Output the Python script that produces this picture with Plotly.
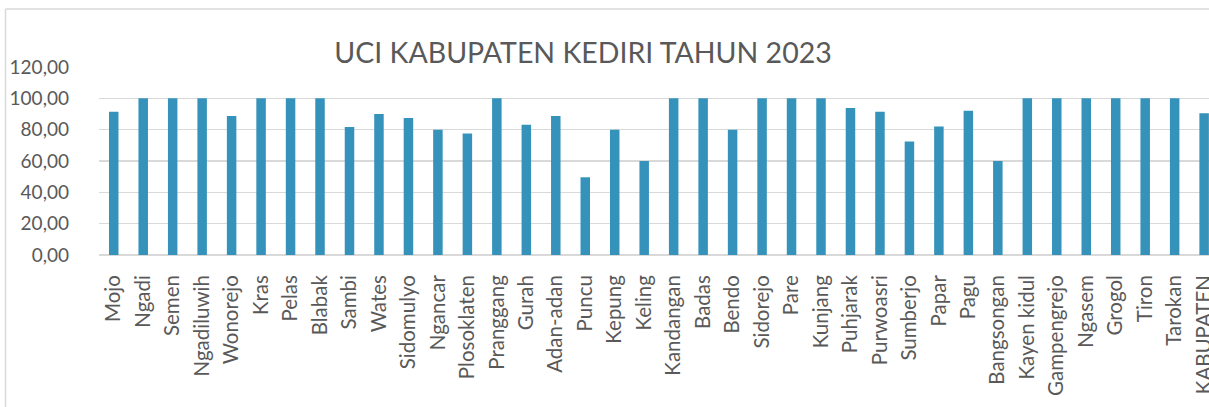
import plotly.graph_objects as go

categories = ["Mojo", "Ngadi", "Semen", "Ngadiluwih", "Wonorejo", "Kras", "Pelas", "Blabak",
              "Sambi", "Wates", "Sidomulyo", "Ngancar", "Plosoklaten", "Pranggang", "Gurah",
              "Adan-adan", "Puncu", "Kepung", "Keling", "Kandangan", "Badas", "Bendo",
              "Sidorejo", "Pare", "Kunjang", "Puhjarak", "Purwoasri", "Sumberjo", "Papar",
              "Pagu", "Bangsongan", "Kayen kidul", "Gampengrejo", "Ngasem", "Grogol", "Tiron",
              "Tarokan", "KABUPATEN"]
uci_values = [91.5, 100, 100, 100, 88.7, 100, 100, 100,
              81.7, 90.0, 87.4, 80.0, 77.6, 100, 83.1,
              88.7, 49.6, 80.0, 60.0, 100, 100, 80.0,
              100, 100, 100, 93.8, 91.5, 72.4, 82.1,
              92.1, 60.0, 100, 100, 100, 100, 100,
              100, 90.4]
y_tick_values = [0, 20, 40, 60, 80, 100, 120]
y_tick_labels = ["0,00", "20,00", "40,00", "60,00", "80,00", "100,00", "120,00"]
title_text = "UCI KABUPATEN KEDIRI TAHUN 2023"

W, H = 1209, 407
L, R, T, B = 99, 0, 67, 152
plot_w = W - L - R
plot_h = H - T - B
cat_w = 29.47

fig = go.Figure(go.Bar(
    x=list(range(len(categories))), y=uci_values,
    marker=dict(color="#3593bb", line=dict(width=0)),
    hoverinfo="skip",
))

fig.update_layout(
    width=W, height=H,
    margin=dict(l=L, r=R, t=T, b=B, autoexpand=False),
    plot_bgcolor="white", paper_bgcolor="white",
    bargap=1 - 9.5 / cat_w,
    showlegend=False,
    font=dict(family="Lato", color="#595959"),
    title=dict(text=title_text, x=583 / W, xanchor="center", xref="container",
               y=1 - 53 / H, yanchor="middle", yref="container",
               font=dict(family="Lato", size=28.5, color="#595959")),
)
fig.update_xaxes(
    range=[-0.5, -0.5 + plot_w / cat_w],
    tickmode="array", tickvals=list(range(len(categories))), ticktext=categories,
    tickangle=-90, tickfont=dict(size=20.5, family="Lato", color="#595959"),
    showgrid=False, showline=False, zeroline=False, ticks="", automargin=False,
    ticklabelstandoff=15, ticklabeloverflow="allow",
)
fig.update_yaxes(
    range=[0, 120], tickmode="array", tickvals=y_tick_values, ticktext=y_tick_labels,
    tickfont=dict(size=19, family="Lato", color="#595959"),
    showgrid=True, gridcolor="#d9d9d9", gridwidth=1.4,
    zeroline=True, zerolinecolor="#d9d9d9", zerolinewidth=1.6,
    showline=False, ticks="", automargin=False, ticklabelstandoff=29,
)

# outer chart-area border (cropped on right and bottom in the reference)
x0 = (5.5 - L) / plot_w
y1 = (H - B - 9) / plot_h
fig.add_shape(type="line", xref="paper", yref="paper", x0=x0, x1=x0, y0=y1, y1=-1.2,
              line=dict(color="#d9d9d9", width=1.5), layer="below")
fig.add_shape(type="line", xref="paper", yref="paper", x0=x0, x1=1.1, y0=y1, y1=y1,
              line=dict(color="#d9d9d9", width=1.5), layer="below")

fig.write_html("out.html", config={"displayModeBar": False, "staticPlot": True},
               post_script="document.body.style.margin='0';document.body.style.overflow='hidden';")
